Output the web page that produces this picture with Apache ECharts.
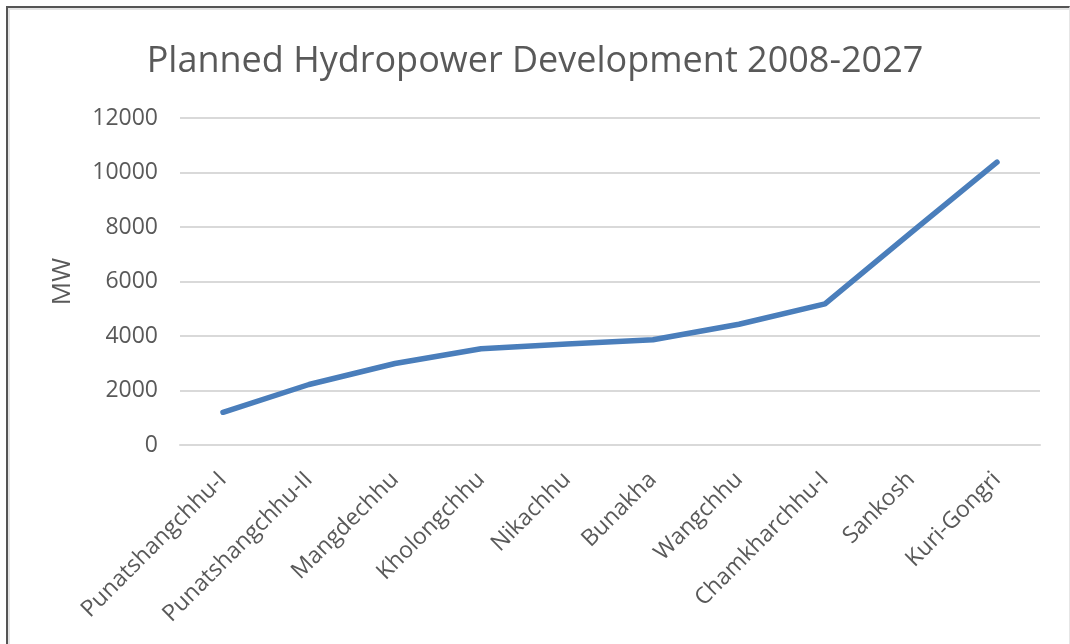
<!DOCTYPE html>
<html>
<head>
<meta charset="utf-8">
<script src="https://cdn.jsdelivr.net/npm/echarts@6/dist/echarts.min.js"></script>
<style>
  html, body { margin: 0; padding: 0; background: #ffffff; }
  #frame { position: absolute; left: 6px; top: 6px; width: 1061px; height: 644px;
           border-top: 2px solid #555555; border-left: 2px solid #555555; border-right: 1px solid #e6e6e6;
           box-shadow: inset 2px 2px 0 #e4e4e4; }
  #chart { position: absolute; left: 0; top: 0; width: 1070px; height: 644px; }
</style>
</head>
<body>
<div id="frame"></div>
<div id="chart"></div>
<script>
const titleText = 'Planned Hydropower Development 2008-2027';
const categories = ['Punatshangchhu-I', 'Punatshangchhu-II', 'Mangdechhu', 'Kholongchhu', 'Nikachhu',
                    'Bunakha', 'Wangchhu', 'Chamkharchhu-I', 'Sankosh', 'Kuri-Gongri'];
const capacityMW = [1200, 2220, 2990, 3530, 3710, 3860, 4430, 5180, 7790, 10380];
const yAxisName = 'MW';
const yMin = 0, yMax = 12000, yStep = 2000;

const textColor = '#595959';
const fontFamily = '"Open Sans", "Noto Sans", sans-serif';

const chart = echarts.init(document.getElementById('chart'), null, { renderer: 'canvas' });
chart.setOption({
  animation: false,
  backgroundColor: 'transparent',
  textStyle: { fontFamily: fontFamily },
  title: {
    text: titleText,
    left: 'center',
    top: 39,
    textStyle: { fontSize: 36, fontWeight: 'normal', color: textColor, fontFamily: fontFamily }
  },
  grid: { left: 180, right: 30, top: 118, bottom: 199, containLabel: false, outerBoundsMode: 'none' },
  xAxis: {
    type: 'category',
    data: categories,
    boundaryGap: true,
    axisLine: { show: true, lineStyle: { color: '#d9d9d9', width: 2 } },
    axisTick: { show: false },
    axisLabel: { interval: 0, rotate: 45, fontSize: 23, color: textColor, margin: 31, fontFamily: fontFamily }
  },
  yAxis: {
    type: 'value',
    min: yMin, max: yMax, interval: yStep,
    name: yAxisName,
    nameLocation: 'middle',
    nameRotate: 90,
    nameGap: 104,
    nameTextStyle: { fontSize: 26, color: textColor, fontFamily: fontFamily },
    axisLine: { show: false },
    axisTick: { show: false },
    splitLine: { lineStyle: { color: '#d9d9d9', width: 2 } },
    axisLabel: { fontSize: 23, color: textColor, margin: 22, fontFamily: fontFamily,
                 formatter: function (v) { return String(v); } }
  },
  series: [{
    type: 'line',
    data: capacityMW,
    symbol: 'none',
    smooth: false,
    lineStyle: { color: '#4a7ebb', width: 5.5, cap: 'round', join: 'round' }
  }]
});
</script>
</body>
</html>
